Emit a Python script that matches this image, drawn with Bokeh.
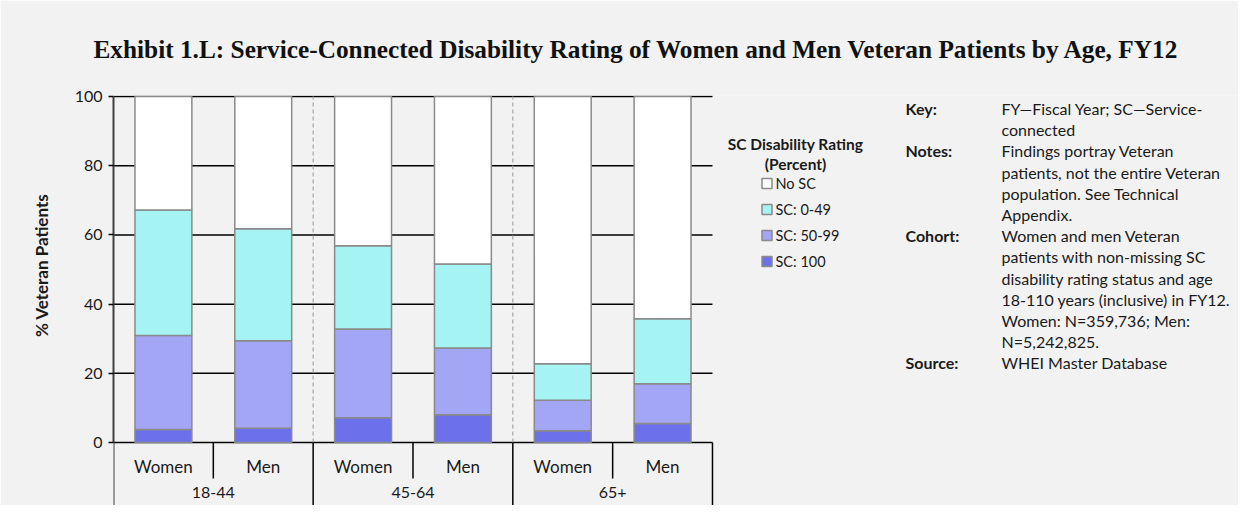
from bokeh.plotting import figure
from bokeh.models import FixedTicker, Range1d, ColumnDataSource, Title
from bokeh.core.properties import value
from bokeh.embed import file_html
from bokeh.resources import INLINE

# ---------------- data ----------------
groups = ["18-44", "45-64", "65+"]
sexes = ["Women", "Men"]
series = ["SC: 100", "SC: 50-99", "SC: 0-49", "No SC"]
sc100 = [3.8, 4.1, 7.2, 8.0, 3.4, 5.5]
sc50_99 = [27.1, 25.3, 25.6, 19.3, 8.8, 11.5]
sc0_49 = [36.3, 32.4, 24.1, 24.3, 10.6, 18.8]
no_sc = [32.8, 38.2, 43.1, 48.4, 77.2, 64.2]
y_ticks = [0, 20, 40, 60, 80, 100]

title_text = "Exhibit 1.L: Service-Connected Disability Rating of Women and Men Veteran Patients by Age, FY12"
y_label = "% Veteran Patients"
note_heads = ["Key:", "Notes:", "Cohort:", "Source:"]
note_head_line = [0, 2, 6, 12]
note_lines = [
    "FY\u2014Fiscal Year; SC\u2014Service-",
    "connected",
    "Findings portray Veteran",
    "patients, not the entire Veteran",
    "population. See Technical",
    "Appendix.",
    "Women and men Veteran",
    "patients with non-missing SC",
    "disability rating status and age",
    "18-110 years (inclusive) in FY12.",
    "Women: N=359,736; Men:",
    "N=5,242,825.",
    "WHEI Master Database",
]

colors = ["#6c70eb", "#a3a5f5", "#a5f3f2", "#ffffff"]
BG = "#f2f2f2"
FONT = "Lato"
TXT = "#1a1a1a"

# ---------------- figure ----------------
W, H = 1238, 505
left, top = 113, 95
px_per_cat = 99.83
px_per_unit = 3.46
frame_w = W - left
frame_h = H - top
x0 = 0.5
x1 = x0 + frame_w / px_per_cat
y1 = 100.3
y0 = y1 - frame_h / px_per_unit

p = figure(width=W, height=H, output_backend="svg", toolbar_location=None,
           x_range=Range1d(x0, x1), y_range=Range1d(y0, y1),
           x_axis_type=None, min_border_left=left, min_border_top=top,
           min_border_right=0, min_border_bottom=0,
           background_fill_color=BG, border_fill_color=BG)
p.outline_line_color = None
p.ygrid.visible = False

# invisible spacer next to the frame, then the title above it
p.add_layout(Title(text="\u00a0", text_font_size="28px", standoff=0,
                   text_color=BG), "above")
p.add_layout(Title(text=title_text, align="left", offset=-20, text_font="Liberation Serif",
                   text_font_size="25.3px", text_font_style="bold", text_color="#111111",
                   standoff=0), "above")

ax = p.yaxis[0]
ax.ticker = FixedTicker(ticks=y_ticks)
ax.bounds = (0, 100)
ax.axis_line_color = "#404040"
ax.axis_line_width = 2
ax.major_tick_in = 0
ax.major_tick_out = 5
ax.major_tick_line_color = "#000000"
ax.major_tick_line_width = 1.5
ax.minor_tick_line_color = None
ax.major_label_text_font = FONT
ax.major_label_text_font_size = "16px"
ax.major_label_text_color = TXT
ax.major_label_standoff = 6
ax.axis_label = "\u00a0" * 17 + y_label
ax.axis_label_text_font = FONT
ax.axis_label_text_font_size = "17px"
ax.axis_label_text_font_style = "bold"
ax.axis_label_text_color = TXT
ax.axis_label_standoff = 20


# helpers: picture pixel -> data
def dx(px):
    return x0 + (px - left) / px_per_cat


def dy(py):
    return (442 - py) / px_per_unit


n = len(groups) * len(sexes)
xs = [i + 1 for i in range(n)]

# gridlines
p.segment(x0=[0.5] * len(y_ticks), x1=[n + 0.5] * len(y_ticks), y0=y_ticks, y1=y_ticks,
          line_color="#000000", line_width=1.5)
# dashed group separators
sep_x = [i * len(sexes) + 0.5 for i in range(1, len(groups))]
p.segment(x0=sep_x, x1=sep_x, y0=[0] * len(sep_x), y1=[100] * len(sep_x),
          line_color="#a6a6a6", line_width=1.2, line_dash="4 3")

src = ColumnDataSource(dict(x=xs, s100=sc100, s50=sc50_99, s0=sc0_49, no=no_sc))
p.vbar_stack(["s100", "s50", "s0", "no"], x="x", width=0.57, source=src,
             fill_color=colors, line_color="#8a8a8a", line_width=1.5)

# category axis (two levels)
short_x = [i * len(sexes) + 1.5 for i in range(len(groups))]
full_x = [0.5] + [i * len(sexes) + 2.5 for i in range(len(groups))]
p.segment(x0=short_x, x1=short_x, y0=[0] * len(short_x), y1=[-10.4] * len(short_x),
          line_color="#000000", line_width=1.5)
p.segment(x0=full_x, x1=full_x, y0=[0] * len(full_x), y1=[y0] * len(full_x),
          line_color=["#404040"] + ["#000000"] * (len(full_x) - 1),
          line_width=[2] + [1.5] * (len(full_x) - 1))
p.text(x=xs, y=[-6.9] * n, text=[sexes[i % 2] for i in range(n)],
       text_font=value(FONT), text_font_size="17px", text_color=TXT,
       text_align="center", text_baseline="middle")
p.text(x=[i * 2 + 1.5 for i in range(len(groups))], y=[dy(492)] * len(groups), text=groups,
       text_font=value(FONT), text_font_size="16px", text_color=TXT,
       text_align="center", text_baseline="middle")

# legend
p.text(x=[dx(795), dx(795)], y=[dy(143), dy(163)], text=["SC Disability Rating", "(Percent)"],
       text_font=value(FONT), text_font_size="15.5px", text_font_style="bold", text_color=TXT,
       text_align="center", text_baseline="middle")
leg_order = [3, 2, 1, 0]
leg_y = [dy(183 + 26 * k) for k in range(4)]
p.scatter(x=[dx(766.5)] * 4, y=leg_y, marker="square", size=10,
          fill_color=[colors[i] for i in leg_order], line_color="#8a8a8a", line_width=1.5)
p.text(x=[dx(775)] * 4, y=leg_y, text=[series[i] for i in leg_order],
       text_font=value(FONT), text_font_size="14.5px", text_color=TXT,
       text_align="left", text_baseline="middle")

# notes
line_h = 21.2
p.text(x=[dx(905)] * len(note_heads), y=[dy(108 + line_h * k) for k in note_head_line],
       text=note_heads, text_font=value(FONT), text_font_size="16px", text_font_style="bold",
       text_color=TXT, text_align="left", text_baseline="middle")
p.text(x=[dx(1001)] * len(note_lines), y=[dy(108 + line_h * k) for k in range(len(note_lines))],
       text=note_lines, text_font=value(FONT), text_font_size="16px",
       text_color=TXT, text_align="left", text_baseline="middle")

open("out.html", "w").write(file_html(p, INLINE))
